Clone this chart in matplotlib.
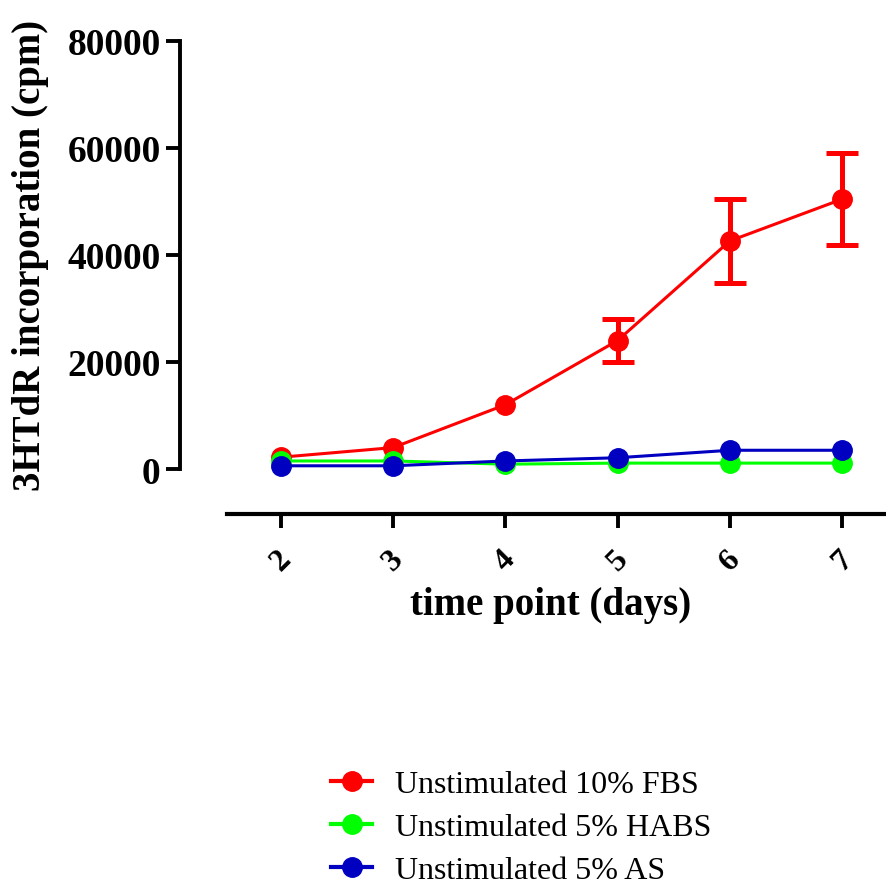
import matplotlib
matplotlib.use("Agg")
import matplotlib.pyplot as plt
from matplotlib.lines import Line2D

plt.rcParams['font.family'] = ['Liberation Serif', 'DejaVu Serif']

days = [2, 3, 4, 5, 6, 7]
fbs_10 = [2200, 4000, 12000, 24000, 42600, 50400]
fbs_10_err = [0, 0, 0, 4100, 7900, 8600]
habs_5 = [1500, 1500, 900, 1100, 1100, 1100]
as_5 = [600, 600, 1500, 2100, 3500, 3500]

series_labels = ["Unstimulated 10% FBS", "Unstimulated 5% HABS", "Unstimulated 5% AS"]
series_colors = ["#ff0000", "#00ff00", "#0000c0"]
y_ticks = [0, 20000, 40000, 60000, 80000]

W = H = 887
dpi = 100
fig = plt.figure(figsize=(W / dpi, H / dpi), dpi=dpi)

left_px, right_px, top_px, bottom_px = 227, 887, 41.7, 470
ax = fig.add_axes([left_px / W, 1 - bottom_px / H,
                   (right_px - left_px) / W, (bottom_px - top_px) / H])

ms = 14
lw = 2.2

# error bars only where a spread was measured
err_idx = [i for i, e in enumerate(fbs_10_err) if e > 0]
ax.errorbar([days[i] for i in err_idx], [fbs_10[i] for i in err_idx],
            yerr=[fbs_10_err[i] for i in err_idx], fmt='none',
            ecolor=series_colors[0], elinewidth=3.6, capsize=11.5,
            capthick=3.6, zorder=3, clip_on=False)
ax.plot(days, fbs_10, color=series_colors[0], marker='o', markersize=ms,
        linewidth=lw, zorder=3, clip_on=False)
ax.plot(days, habs_5, color=series_colors[1], marker='o', markersize=ms,
        linewidth=lw, zorder=4, clip_on=False)
ax.plot(days, as_5, color=series_colors[2], marker='o', markersize=ms,
        linewidth=lw, zorder=5, clip_on=False)

ax.set_xlim(1.52, 7.4)
ax.set_ylim(0, 80000)

for side in ('top', 'right'):
    ax.spines[side].set_visible(False)
ax.spines['left'].set_position(('outward', 47 * 72 / dpi))
ax.spines['bottom'].set_position(('outward', 45 * 72 / dpi))
ax.spines['left'].set_bounds(0, 80000)
ax.spines['left'].set_linewidth(2.8)
ax.spines['bottom'].set_linewidth(3.0)

ax.set_yticks(y_ticks)
ax.set_yticklabels([str(v) for v in y_ticks], fontsize=27, fontweight='bold')
ax.set_xticks(days)
ax.set_xticklabels([str(d) for d in days], fontsize=23, fontweight='bold',
                   rotation=45, ha='center', va='top')
ax.tick_params(axis='y', direction='out', length=10, width=2.8, pad=4)
ax.tick_params(axis='x', direction='out', length=10, width=2.8, pad=12)

ax.set_ylabel("3HTdR incorporation (cpm)", fontsize=28, fontweight='bold')
ax.set_xlabel("time point (days)", fontsize=28, fontweight='bold')
ax.xaxis.set_label_coords((551 - left_px) / (right_px - left_px),
                          1 - (605 - top_px) / (bottom_px - top_px))
ax.xaxis.label.set_va('center')
ax.yaxis.set_label_coords((30 - left_px) / (right_px - left_px),
                          (bottom_px - 255) / (bottom_px - top_px))
ax.yaxis.label.set_va('center')

handles = [Line2D([], [], color=c, marker='o', markersize=ms, linewidth=3)
           for c in series_colors]
fig.legend(handles, series_labels, loc='upper left',
           bbox_to_anchor=(318 / W, 1 - 758 / H), frameon=False,
           fontsize=23, handlelength=1.3, handletextpad=0.7,
           labelspacing=0.42, borderaxespad=0)

fig.savefig("out.png", dpi=dpi)
